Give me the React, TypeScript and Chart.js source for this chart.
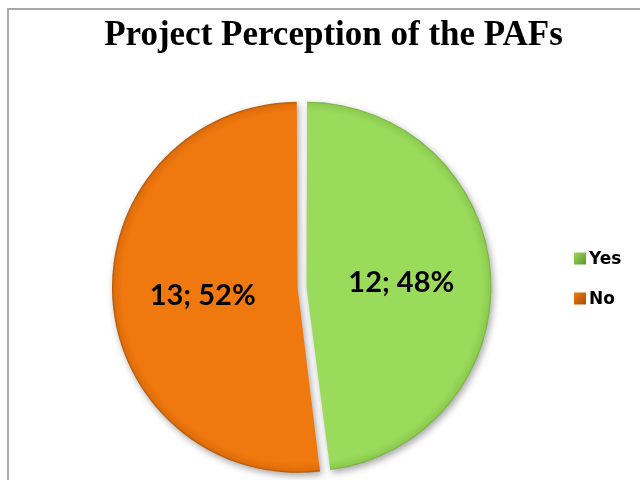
import { useEffect, useRef } from "react";
import { Chart, registerables } from "chart.js";

Chart.register(...registerables);

const TITLE = "Project Perception of the PAFs";
const categories = ["Yes", "No"];
const values = [12, 13];
const baseColors = ["#9BDB5C", "#F0790F"];
const midColors = ["#8CCB4E", "#E06E0A"];
const rimColors = ["#5E962C", "#A85004"];

const LABEL_FONT = "bold 29px Lato, 'Open Sans', sans-serif";
const LEGEND_FONT = "bold 17px 'DejaVu Sans', sans-serif";
const TITLE_FONT = "bold 35px 'Liberation Serif', 'Times New Roman', serif";

export default function App() {
  const ref = useRef<HTMLCanvasElement>(null);

  useEffect(() => {
    if (!ref.current) return;
    const total = values.reduce((a, b) => a + b, 0);

    const fill = (ctx: any) => {
      const chart = ctx.chart;
      const a = chart.chartArea;
      const i = ctx.dataIndex;
      if (!a) return baseColors[i];
      const cx = (a.left + a.right) / 2;
      const cy = (a.top + a.bottom) / 2;
      const R = Math.min(a.right - a.left, a.bottom - a.top) / 2 - 4;
      const g = chart.ctx.createRadialGradient(cx, cy, 0, cx, cy, R);
      g.addColorStop(0, baseColors[i]);
      g.addColorStop(0.94, baseColors[i]);
      g.addColorStop(0.985, midColors[i]);
      g.addColorStop(1, rimColors[i]);
      return g;
    };

    const shadowPlugin = {
      id: "shadow",
      beforeDatasetsDraw(chart: any) {
        const c = chart.ctx;
        c.save();
        c.shadowColor = "rgba(0,0,0,0.35)";
        c.shadowBlur = 7;
        c.shadowOffsetX = 2;
        c.shadowOffsetY = 3;
      },
      afterDatasetsDraw(chart: any) {
        chart.ctx.restore();
      },
    };

    const decorPlugin = {
      id: "decor",
      beforeDraw(chart: any) {
        const c = chart.ctx;
        c.save();
        c.fillStyle = "#ffffff";
        c.fillRect(0, 0, chart.width, chart.height);
        c.fillStyle = "#a8a8a8";
        c.fillRect(7, 8, 2, chart.height - 8);
        c.fillRect(7, 8, chart.width - 7, 2);
        c.restore();
      },
      afterDraw(chart: any) {
        const c = chart.ctx;
        c.save();
        // title
        c.font = TITLE_FONT;
        c.fillStyle = "#000";
        c.textAlign = "center";
        c.textBaseline = "alphabetic";
        c.fillText(TITLE, 333.5, 44.5);

        // data labels
        const meta = chart.getDatasetMeta(0);
        c.font = LABEL_FONT;
        c.textBaseline = "middle";
        meta.data.forEach((arc: any, i: number) => {
          const p = arc.getCenterPoint();
          const pct = Math.round((values[i] / total) * 100);
          c.fillText(`${values[i]}; ${pct}%`, p.x, p.y + 2);
        });

        // legend
        c.font = LEGEND_FONT;
        c.textAlign = "left";
        c.textBaseline = "middle";
        const ys = [258.5, 298.5];
        categories.forEach((cat, i) => {
          const y = ys[i];
          const bx = 574, bs = 12;
          const g = c.createLinearGradient(bx, y - bs / 2, bx + bs, y + bs / 2);
          g.addColorStop(0, baseColors[i]);
          g.addColorStop(1, rimColors[i]);
          c.fillStyle = g;
          c.fillRect(bx, y - bs / 2, bs, bs);
          c.fillStyle = "#000";
          c.fillText(cat, 589, y + 1);
        });
        c.restore();
      },
    };

    const chart = new Chart(ref.current, {
      type: "pie",
      data: {
        labels: categories,
        datasets: [
          {
            data: values,
            backgroundColor: fill,
            borderWidth: 0,
            offset: 18,
          },
        ],
      },
      options: {
        responsive: false,
        animation: false,
        rotation: 0,
        layout: { padding: { left: 37, right: 73, top: 97, bottom: 3 } },
        plugins: {
          legend: { display: false },
          title: { display: false },
          tooltip: { enabled: false },
        },
      },
      plugins: [decorPlugin, shadowPlugin],
    });
    return () => chart.destroy();
  }, []);

  return (
    <>
      <style>{`html,body{margin:0;padding:0;overflow:hidden;background:#fff}`}</style>
      <canvas ref={ref} width={640} height={480} style={{ display: "block" }} />
    </>
  );
}
